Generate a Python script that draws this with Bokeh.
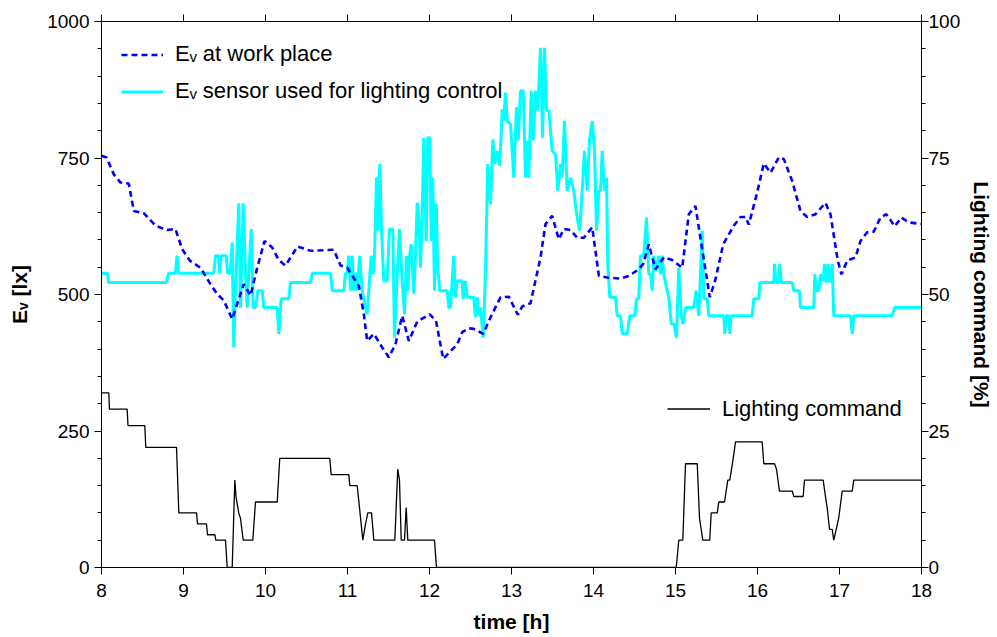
from bokeh.plotting import figure
from bokeh.models import Range1d, LinearAxis, Legend, LegendItem, FixedTicker
from bokeh.embed import file_html
from bokeh.resources import INLINE

# ---------------- data ----------------
# Illuminance at the work place (blue dashed), time in hours, Ev in lx
work_time = [
    8.000, 8.061, 8.150, 8.232, 8.333, 8.394, 8.516, 8.659, 8.800, 8.902,
    8.984, 9.077, 9.207, 9.329, 9.411, 9.491, 9.594, 9.655, 9.735, 9.817,
    9.899, 9.988, 10.082, 10.162, 10.244, 10.390, 10.549, 10.833, 10.915, 10.996,
    11.138, 11.199, 11.240, 11.321, 11.423, 11.504, 11.585, 11.667, 11.748, 11.850,
    12.000, 12.079, 12.167, 12.338, 12.399, 12.479, 12.540, 12.655, 12.744, 12.866,
    12.967, 13.077, 13.130, 13.232, 13.354, 13.415, 13.496, 13.577, 13.638, 13.720,
    13.801, 13.882, 13.984, 14.024, 14.065, 14.167, 14.329, 14.430, 14.552, 14.606,
    14.674, 14.756, 14.857, 14.960, 15.082, 15.162, 15.244, 15.296, 15.418, 15.488,
    15.582, 15.711, 15.793, 15.854, 15.894, 15.996, 16.077, 16.159, 16.260, 16.321,
    16.423, 16.524, 16.606, 16.707, 16.829, 16.890, 16.979, 17.024, 17.094, 17.195,
    17.256, 17.337, 17.418, 17.500, 17.570, 17.674, 17.752, 17.845, 18.000,
]
work_ev = [
    754, 751, 720, 705, 703, 653, 649, 626, 618, 620,
    583, 562, 549, 519, 501, 489, 455, 483, 519, 498,
    549, 598, 586, 563, 553, 588, 580, 582, 553, 549,
    516, 464, 415, 428, 403, 385, 409, 461, 415, 450,
    464, 452, 382, 409, 431, 438, 437, 428, 458, 495,
    496, 463, 478, 484, 568, 629, 644, 601, 620, 618,
    604, 604, 623, 580, 534, 531, 529, 534, 546, 556,
    592, 546, 568, 563, 549, 647, 662, 611, 495, 528,
    592, 626, 642, 642, 628, 687, 740, 723, 751, 748,
    708, 653, 642, 647, 668, 647, 562, 537, 562, 568,
    598, 614, 615, 641, 647, 625, 641, 632, 629,
]

# Illuminance at the control sensor (cyan)
sensor_time = [
    8.000, 8.073, 8.085, 8.793, 8.817, 8.902, 8.921, 8.939, 9.370, 9.390,
    9.427, 9.439, 9.457, 9.524, 9.537, 9.570, 9.594, 9.613, 9.634, 9.674,
    9.695, 9.728, 9.756, 9.777, 9.796, 9.826, 9.850, 9.878, 9.906, 9.960,
    9.979, 10.143, 10.162, 10.191, 10.284, 10.305, 10.549, 10.570, 10.793, 10.813,
    10.955, 10.976, 10.996, 11.016, 11.037, 11.057, 11.077, 11.098, 11.118, 11.150,
    11.179, 11.220, 11.240, 11.260, 11.289, 11.313, 11.329, 11.354, 11.370, 11.394,
    11.415, 11.443, 11.484, 11.512, 11.552, 11.573, 11.606, 11.634, 11.667, 11.695,
    11.720, 11.735, 11.756, 11.777, 11.809, 11.829, 11.850, 11.870, 11.890, 11.911,
    11.930, 11.960, 11.979, 12.004, 12.021, 12.040, 12.061, 12.082, 12.101, 12.126,
    12.216, 12.235, 12.256, 12.296, 12.317, 12.338, 12.399, 12.411, 12.439, 12.460,
    12.540, 12.561, 12.582, 12.601, 12.622, 12.655, 12.683, 12.711, 12.744, 12.772,
    12.796, 12.826, 12.857, 12.887, 12.906, 12.927, 12.948, 12.988, 13.028, 13.061,
    13.082, 13.110, 13.143, 13.171, 13.191, 13.211, 13.240, 13.265, 13.293, 13.321,
    13.354, 13.378, 13.402, 13.427, 13.455, 13.496, 13.537, 13.565, 13.598, 13.618,
    13.646, 13.679, 13.720, 13.760, 13.793, 13.833, 13.862, 13.890, 13.923, 13.951,
    13.984, 14.012, 14.037, 14.065, 14.085, 14.106, 14.134, 14.159, 14.174, 14.199,
    14.268, 14.289, 14.329, 14.350, 14.411, 14.443, 14.504, 14.524, 14.552, 14.573,
    14.613, 14.646, 14.674, 14.695, 14.716, 14.735, 14.756, 14.796, 14.817, 14.838,
    14.857, 14.898, 14.918, 14.948, 14.979, 15.012, 15.040, 15.070, 15.094, 15.122,
    15.223, 15.252, 15.284, 15.326, 15.345, 15.387, 15.406, 15.589, 15.601, 15.618,
    15.650, 15.662, 15.679, 15.935, 15.955, 16.016, 16.028, 16.199, 16.207, 16.228,
    16.260, 16.272, 16.289, 16.423, 16.443, 16.512, 16.524, 16.687, 16.699, 16.720,
    16.748, 16.768, 16.801, 16.817, 16.841, 16.862, 16.882, 16.911, 16.930, 17.134,
    17.155, 17.174, 17.643, 17.671, 18.000,
]
sensor_ev = [
    539, 539, 522, 522, 539, 539, 571, 539, 539, 571,
    571, 539, 571, 571, 539, 539, 595, 403, 507, 667,
    476, 667, 537, 476, 537, 620, 476, 476, 507, 507,
    476, 476, 428, 492, 492, 522, 522, 539, 539, 507,
    507, 539, 539, 571, 507, 571, 507, 540, 507, 571,
    507, 476, 464, 507, 571, 537, 571, 714, 617, 739,
    617, 525, 525, 620, 620, 421, 537, 620, 525, 464,
    571, 507, 571, 592, 501, 571, 668, 638, 549, 647,
    787, 598, 787, 787, 598, 714, 507, 666, 549, 507,
    507, 476, 476, 571, 495, 525, 525, 492, 525, 495,
    495, 458, 495, 461, 476, 421, 543, 739, 665, 784,
    739, 763, 736, 839, 818, 870, 818, 812, 714, 843,
    782, 873, 873, 714, 782, 714, 873, 782, 873, 837,
    952, 787, 952, 837, 837, 763, 757, 690, 739, 714,
    818, 690, 714, 690, 647, 617, 690, 763, 690, 782,
    818, 763, 617, 690, 690, 763, 690, 714, 556, 495,
    495, 461, 461, 428, 428, 461, 461, 492, 492, 571,
    571, 641, 537, 537, 507, 571, 543, 571, 537, 571,
    537, 507, 495, 446, 446, 421, 549, 461, 446, 476,
    476, 507, 461, 617, 492, 492, 461, 461, 428, 461,
    461, 428, 461, 461, 492, 492, 522, 522, 556, 522,
    522, 556, 522, 522, 507, 507, 476, 476, 537, 507,
    507, 537, 525, 556, 522, 556, 522, 556, 461, 461,
    428, 461, 461, 476, 476,
]

# Lighting command in % (black)
command_time = [
    8.000, 8.089, 8.097, 8.313, 8.323, 8.528, 8.540, 8.915, 8.943, 9.159,
    9.171, 9.280, 9.293, 9.382, 9.394, 9.512, 9.533, 9.594, 9.626, 9.640,
    9.674, 9.695, 9.728, 9.845, 9.878, 10.143, 10.174, 10.784, 10.801, 11.016,
    11.028, 11.118, 11.146, 11.187, 11.220, 11.248, 11.293, 11.321, 11.577, 11.613,
    11.634, 11.655, 11.695, 11.716, 11.735, 12.061, 12.085, 15.009, 15.040, 15.089,
    15.122, 15.265, 15.293, 15.333, 15.418, 15.435, 15.509, 15.528, 15.598, 15.638,
    15.662, 15.704, 15.732, 16.057, 16.077, 16.207, 16.232, 16.268, 16.423, 16.443,
    16.557, 16.573, 16.801, 16.838, 16.850, 16.878, 16.911, 16.930, 16.960, 16.990,
    17.033, 17.155, 17.174, 18.000,
]
command_pct = [
    32, 32, 29, 29, 26, 26, 22, 22, 10, 10,
    8, 8, 6, 6, 5, 5, 0, 0, 16, 13,
    10, 9, 5, 5, 12, 12, 20, 20, 17, 17,
    15, 15, 11, 5, 8, 10, 10, 5, 5, 18,
    16, 5, 5, 11, 5, 5, 0, 0, 5, 5,
    19, 19, 9, 5, 5, 10, 10, 12, 12, 16,
    16, 20, 23, 23, 19, 19, 18, 14, 14, 13,
    13, 16, 16, 12, 11, 7, 7, 5, 7, 9,
    14, 14, 16, 16,
]

x_ticks = [8, 9, 10, 11, 12, 13, 14, 15, 16, 17, 18]
ev_ticks = [0, 250, 500, 750, 1000]
ev_minor = list(range(0, 1001, 50))
cmd_ticks = [0, 25, 50, 75, 100]
cmd_minor = list(range(0, 101, 5))

FONT = "Liberation Sans"

# ---------------- figure ----------------
p = figure(width=997, height=637, x_range=Range1d(8, 18), y_range=Range1d(0, 1000),
           output_backend="svg", toolbar_location=None,
           min_border_left=101, min_border_right=76, min_border_top=21, min_border_bottom=70)
p.extra_y_ranges = {"cmd": Range1d(0, 100)}
p.xgrid.visible = False
p.ygrid.visible = False
p.outline_line_color = None
p.background_fill_color = "white"
p.border_fill_color = "white"

r_sensor = p.line(sensor_time, sensor_ev, line_color="#00ffff", line_width=3)
r_work = p.line(work_time, work_ev, line_color="#0000ff", line_width=2.6, line_dash="6 4")
r_cmd = p.line(command_time, command_pct, line_color="black", line_width=1.3, y_range_name="cmd")

def style_axis(ax):
    ax.axis_line_color = "black"
    ax.axis_line_width = 1
    ax.major_tick_line_color = "black"
    ax.minor_tick_line_color = "black"
    ax.major_tick_in = 0
    ax.minor_tick_in = 0
    ax.major_tick_out = 7
    ax.major_label_text_font = FONT
    ax.major_label_text_font_size = "19px"
    ax.major_label_text_color = "black"
    ax.axis_label_text_font = FONT
    ax.axis_label_text_font_size = "21px"
    ax.axis_label_text_font_style = "bold"
    ax.axis_label_text_color = "black"

# bottom
xb = p.xaxis[0]
xb.ticker = FixedTicker(ticks=x_ticks)
style_axis(xb)
xb.minor_tick_out = 0
xb.axis_label = "time [h]"
xb.major_label_standoff = 9
xb.axis_label_standoff = 10

# left
yl = p.yaxis[0]
yl.ticker = FixedTicker(ticks=ev_ticks, minor_ticks=ev_minor)
style_axis(yl)
yl.minor_tick_out = 4
yl.axis_label = "E\u1d65 [lx]"
yl.major_label_standoff = 5
yl.axis_label_standoff = 13

# top (tick marks only)
xt = LinearAxis(ticker=FixedTicker(ticks=x_ticks))
style_axis(xt)
xt.minor_tick_out = 0
xt.major_label_text_font_size = "1px"
xt.major_label_text_color = None
xt.major_label_standoff = 0
p.add_layout(xt, "above")

# right
yr = LinearAxis(y_range_name="cmd", ticker=FixedTicker(ticks=cmd_ticks, minor_ticks=cmd_minor))
style_axis(yr)
yr.minor_tick_out = 4
yr.axis_label = "Lighting command [%]"
yr.major_label_standoff = 0
yr.axis_label_standoff = 7
p.add_layout(yr, "right")

# legends
leg1 = Legend(items=[LegendItem(label="E\u1d65 at work place", renderers=[r_work]),
                     LegendItem(label="E\u1d65 sensor used for lighting control", renderers=[r_sensor])],
              location="top_left", margin=10, padding=10, glyph_width=42, glyph_height=21,
              label_height=21, spacing=11, label_standoff=12,
              label_text_font=FONT, label_text_font_size="22px", label_text_color="black",
              background_fill_alpha=0, border_line_alpha=0)
p.add_layout(leg1)

leg2 = Legend(items=[LegendItem(label="Lighting command", renderers=[r_cmd])],
              location=(556, 135.5), margin=0, padding=10, glyph_width=43, glyph_height=21,
              label_height=21, spacing=0, label_standoff=12,
              label_text_font=FONT, label_text_font_size="22px", label_text_color="black",
              background_fill_alpha=0, border_line_alpha=0)
p.add_layout(leg2)

open("out.html", "w").write(file_html(p, INLINE))
